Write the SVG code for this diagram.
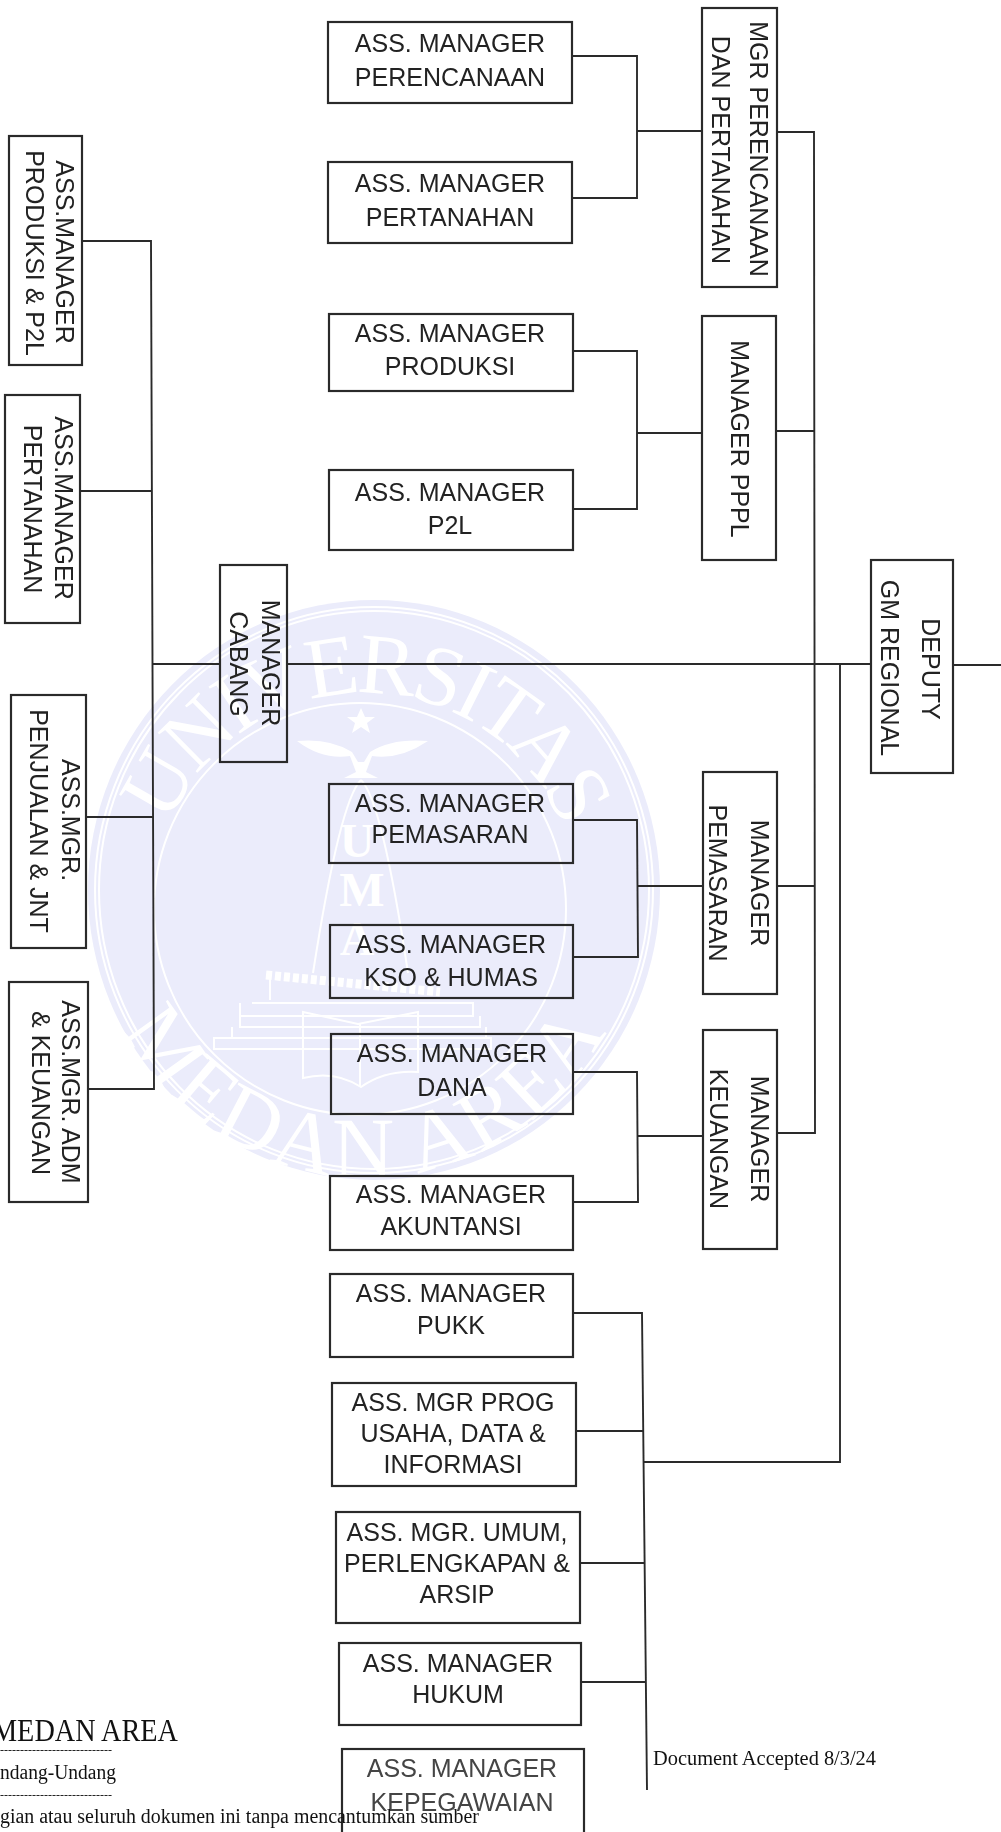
<svg xmlns="http://www.w3.org/2000/svg" width="1001" height="1832" viewBox="0 0 1001 1832">
<defs>
<style>
.b{fill:none;stroke:#2b2b2b;stroke-width:2.2}
.c{fill:none;stroke:#2b2b2b;stroke-width:1.9}
.t{font-family:"Liberation Sans",Arial,sans-serif;font-size:25px;fill:#222;text-anchor:middle}
.f{font-family:"Liberation Serif",serif;fill:#111}
.w{font-family:"Liberation Serif",serif;fill:#fff;font-size:86px}
.wl{fill:none;stroke:#fff;stroke-width:2}
.ws{fill:#fff}
</style>
<filter id="soft" x="-2%" y="-2%" width="104%" height="104%"><feGaussianBlur stdDeviation="0.45"/></filter>
<path id="arcTop" d="M 153 905 A 212 212 0 0 1 577 905"/>
<path id="arcBot" d="M 93 905 A 272 272 0 0 0 637 905"/>
</defs>
<rect width="1001" height="1832" fill="#fff"/>
<g id="watermark">
<ellipse cx="374" cy="890" rx="286" ry="290" fill="#ebecfb"/>
<ellipse cx="374" cy="890" rx="279" ry="283" class="wl" stroke-width="1.5"/>
<ellipse cx="374" cy="890" rx="275" ry="279" class="wl" stroke-width="1"/>
<circle cx="360" cy="909" r="206" fill="#e4e5f8" class="wl"/>
<text class="w" letter-spacing="-5" text-anchor="middle"><textPath href="#arcTop" startOffset="50%">UNIVERSITAS</textPath></text>
<text class="w" letter-spacing="3" text-anchor="middle"><textPath href="#arcBot" startOffset="50%">MEDAN AREA</textPath></text>
<polygon class="ws" points="361,708 365,717 375,717 367,723 370,733 361,727 352,733 355,723 347,717 357,717"/>
<path class="ws" d="M297 741 Q330 738 352 752 L358 762 L364 762 L370 752 Q392 738 428 741 Q400 760 372 756 L366 772 L378 778 L344 778 L356 772 L350 756 Q322 760 297 741Z"/>
<path class="wl" d="M361 780 Q340 800 313 973 M361 780 Q382 800 408 973"/>
<g font-family="Liberation Serif,serif" font-weight="bold" font-size="48" fill="#fff" text-anchor="middle">
<text x="357" y="857">U</text><text x="362" y="906">M</text><text x="357" y="955">A</text>
</g>
<path d="M266 975 L440 992" stroke="#fff" stroke-width="9" stroke-dasharray="6 3" fill="none"/>
<path class="wl" d="M270 978 V1000 M252 1003 H473 V1016 H240 V1003 M240 1016 V1027 H480 V1016 M232 1027 V1038 H486 V1027 M214 1038 H491 V1049 H214Z"/>
<path class="wl" d="M303 1012 L358 1024 L418 1012 L418 1072 Q385 1070 361 1087 Q335 1070 303 1078Z M360 1024 V1087"/>
</g>
<g filter="url(#soft)">
<g id="connectors">
<path class="c" d="M82 241 H151 L154 1089 H88"/>
<path class="c" d="M80 491 H152"/>
<path class="c" d="M86 817 H153"/>
<path class="c" d="M152 664 H220 M287 664 H814 H871 M953 665 H1001"/>
<path class="c" d="M572 56 H637 V198 H572 M637 131 H702"/>
<path class="c" d="M573 351 H637 V509 H573 M637 433 H702"/>
<path class="c" d="M573 820 H637 L638 957 H573 M637 886 H703" stroke-width="2.4"/>
<path class="c" d="M573 1072 H637 L638 1202 H573 M637 1136 H703"/>
<path class="c" d="M777 132 H814 L815 1133 H777"/>
<path class="c" d="M776 431 H814"/>
<path class="c" d="M777 886 H814"/>
<path class="c" d="M840 665 V1462 H643"/>
<path class="c" d="M573 1313 H642 L647 1790"/>
<path class="c" d="M576 1431 H643"/>
<path class="c" d="M580 1563 H645"/>
<path class="c" d="M581 1682 H646"/>
</g>
<g id="n-perencanaan"><rect class="b" x="328" y="22" width="244" height="81"/><text class="t" x="450" y="52">ASS. MANAGER</text><text class="t" x="450" y="86">PERENCANAAN</text></g>
<g id="n-pertanahan"><rect class="b" x="328" y="162" width="244" height="81"/><text class="t" x="450" y="192">ASS. MANAGER</text><text class="t" x="450" y="226">PERTANAHAN</text></g>
<g id="n-produksi"><rect class="b" x="329" y="314" width="244" height="77"/><text class="t" x="450" y="342">ASS. MANAGER</text><text class="t" x="450" y="375">PRODUKSI</text></g>
<g id="n-p2l"><rect class="b" x="329" y="470" width="244" height="80"/><text class="t" x="450" y="501">ASS. MANAGER</text><text class="t" x="450" y="534">P2L</text></g>
<g id="n-pemasaran"><rect class="b" x="329" y="784" width="244" height="79"/><text class="t" x="450" y="812">ASS. MANAGER</text><text class="t" x="450" y="843">PEMASARAN</text></g>
<g id="n-kso"><rect class="b" x="330" y="925" width="243" height="73"/><text class="t" x="451" y="953">ASS. MANAGER</text><text class="t" x="451" y="986">KSO &amp; HUMAS</text></g>
<g id="n-dana"><rect class="b" x="331" y="1034" width="242" height="80"/><text class="t" x="452" y="1062">ASS. MANAGER</text><text class="t" x="452" y="1096">DANA</text></g>
<g id="n-akuntansi"><rect class="b" x="330" y="1176" width="243" height="74"/><text class="t" x="451" y="1203">ASS. MANAGER</text><text class="t" x="451" y="1235">AKUNTANSI</text></g>
<g id="n-pukk"><rect class="b" x="330" y="1274" width="243" height="83"/><text class="t" x="451" y="1302">ASS. MANAGER</text><text class="t" x="451" y="1334">PUKK</text></g>
<g id="n-prog"><rect class="b" x="332" y="1383" width="244" height="103"/><text class="t" x="453" y="1411">ASS. MGR PROG</text><text class="t" x="453" y="1442">USAHA, DATA &amp;</text><text class="t" x="453" y="1473">INFORMASI</text></g>
<g id="n-umum"><rect class="b" x="336" y="1512" width="244" height="111"/><text class="t" x="457" y="1541">ASS. MGR. UMUM,</text><text class="t" x="457" y="1572">PERLENGKAPAN &amp;</text><text class="t" x="457" y="1603">ARSIP</text></g>
<g id="n-hukum"><rect class="b" x="339" y="1643" width="242" height="82"/><text class="t" x="458" y="1672">ASS. MANAGER</text><text class="t" x="458" y="1703">HUKUM</text></g>
<g id="n-kepegawaian"><rect class="b" x="342" y="1749" width="242" height="100"/><text class="t" x="462" y="1777" style="fill:#444">ASS. MANAGER</text><text class="t" x="462" y="1811" style="fill:#444">KEPEGAWAIAN</text></g>
<g id="n-mgr-perencanaan"><rect class="b" x="702" y="8" width="75" height="279"/><text class="t" transform="translate(750 149) rotate(90)">MGR PERENCANAAN</text><text class="t" transform="translate(712 150) rotate(90)">DAN PERTANAHAN</text></g>
<g id="n-mgr-pppl"><rect class="b" x="702" y="316" width="74" height="244"/><text class="t" transform="translate(731 439) rotate(90)">MANAGER PPPL</text></g>
<g id="n-mgr-pemasaran"><rect class="b" x="703" y="772" width="74" height="222"/><text class="t" transform="translate(751 883) rotate(90)">MANAGER</text><text class="t" transform="translate(709 883) rotate(90)">PEMASARAN</text></g>
<g id="n-mgr-keuangan"><rect class="b" x="703" y="1030" width="74" height="219"/><text class="t" transform="translate(751 1139) rotate(90)">MANAGER</text><text class="t" transform="translate(710 1139) rotate(90)">KEUANGAN</text></g>
<g id="n-deputy"><rect class="b" x="871" y="560" width="82" height="213"/><text class="t" transform="translate(922 669) rotate(90)">DEPUTY</text><text class="t" transform="translate(881 668) rotate(90)">GM REGIONAL</text></g>
<g id="n-cabang"><rect class="b" x="220" y="565" width="67" height="197"/><text class="t" transform="translate(262 663) rotate(90)">MANAGER</text><text class="t" transform="translate(230 664) rotate(90)">CABANG</text></g>
<g id="n-l-produksi"><rect class="b" x="9" y="136" width="73" height="229"/><text class="t" transform="translate(56 252) rotate(90)">ASS.MANAGER</text><text class="t" transform="translate(26 253) rotate(90)">PRODUKSI &amp; P2L</text></g>
<g id="n-l-pertanahan"><rect class="b" x="5" y="395" width="75" height="228"/><text class="t" transform="translate(55 508) rotate(90)">ASS.MANAGER</text><text class="t" transform="translate(24 509) rotate(90)">PERTANAHAN</text></g>
<g id="n-l-penjualan"><rect class="b" x="11" y="695" width="75" height="253"/><text class="t" transform="translate(62 820) rotate(90)">ASS.MGR.</text><text class="t" transform="translate(30 821) rotate(90)">PENJUALAN &amp; JNT</text></g>
<g id="n-l-adm"><rect class="b" x="9" y="982" width="79" height="220"/><text class="t" transform="translate(62 1092) rotate(90)">ASS.MGR. ADM</text><text class="t" transform="translate(32 1093) rotate(90)">&amp; KEUANGAN</text></g>
</g>
<g id="footer">
<text class="f" x="-8" y="1741" font-size="32" textLength="186" lengthAdjust="spacingAndGlyphs">MEDAN AREA</text>
<text class="f" x="0" y="1754" font-size="12">----------------------------</text>
<text class="f" x="0" y="1779" font-size="20" textLength="116" lengthAdjust="spacingAndGlyphs">ndang-Undang</text>
<text class="f" x="0" y="1799" font-size="12">----------------------------</text>
<text class="f" x="0" y="1823" font-size="20" textLength="479" lengthAdjust="spacingAndGlyphs">gian atau seluruh dokumen ini tanpa mencantumkan sumber</text>
<text class="f" x="653" y="1765" font-size="20" textLength="223" lengthAdjust="spacingAndGlyphs">Document Accepted 8/3/24</text>
</g>
</svg>
